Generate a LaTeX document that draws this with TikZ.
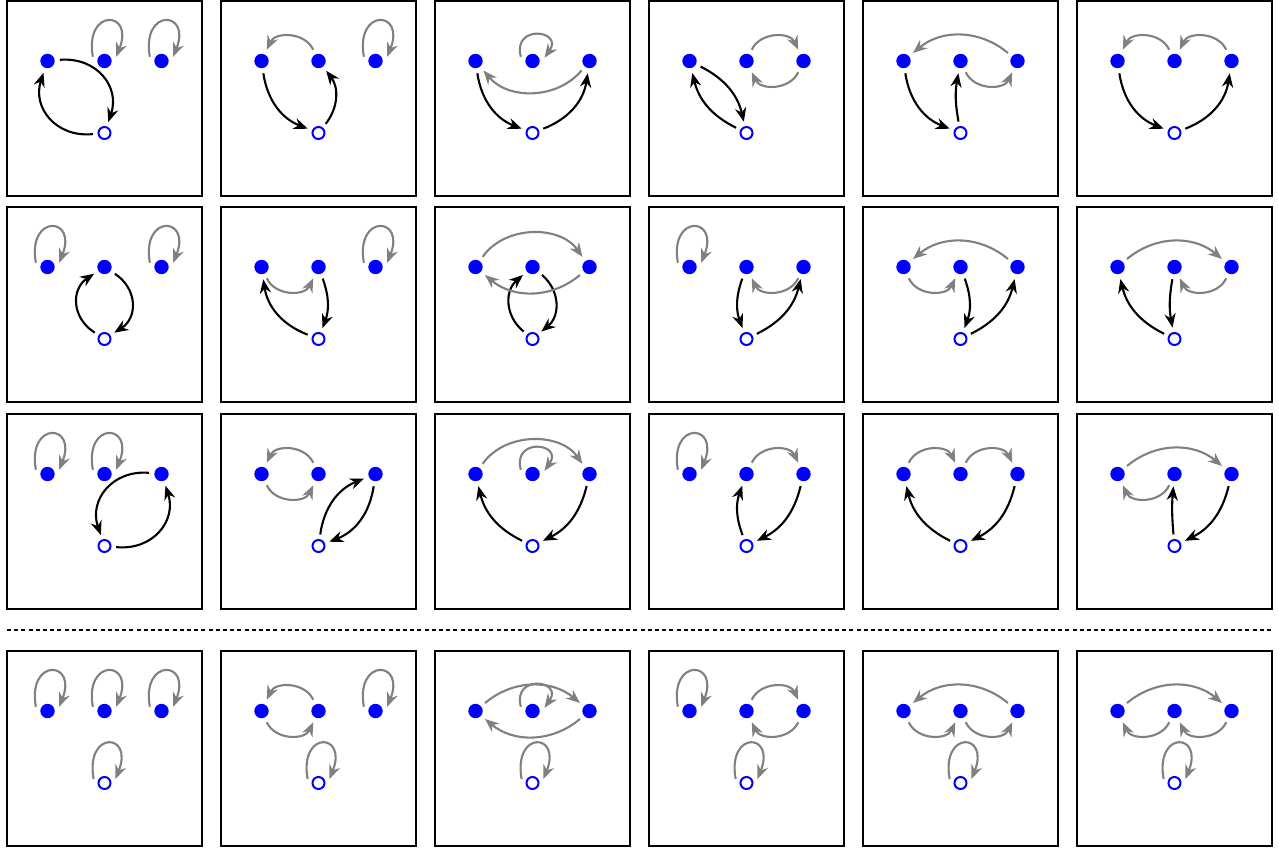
\documentclass[tikz,border=0pt]{standalone}
\usepackage{tikz}
\usetikzlibrary{arrows.meta}
\tikzset{
    frame/.style={draw=black, line width=1pt},
    vertex/.style={circle, fill=blue, inner sep=0pt, minimum size=7.2pt, outer sep=2.6pt},
    hole/.style={circle, draw=blue, fill=white, line width=1pt, inner sep=0pt, minimum size=6pt, outer sep=2.8pt},
    cyc/.style={-{Stealth[length=7pt,width=5.6pt]}, line width=1.05pt, black},
    rest/.style={-{Stealth[length=7pt,width=5.6pt]}, line width=1.05pt, gray},
    near/.style={looseness=1.1},
    far/.style={looseness=1},
    fixloop/.style={rest, out=100, in=68, min distance=25pt},
    smallloop/.style={rest, out=105, in=55, min distance=17pt}
}

\begin{document}
\begin{tikzpicture}[x=0.5pt, y=0.5pt]
  \useasboundingbox (0,0) rectangle (1279,-850);

  % Frames and dots
  \foreach \row/\top in {0/1, 1/207, 2/414, 3/651} {
    \foreach \col in {0,...,5} {
      \pgfmathtruncatemacro{\k}{6*\row+\col+1}
      \pgfmathsetmacro{\xl}{7+214*\col}
      \pgfmathsetmacro{\cx}{104.5+214*\col}
      \draw[frame] (\xl,-\top) rectangle ({\xl+195}, {-\top-195});
      \node[vertex] (a\k) at ({\cx-57}, {-\top-60}) {};
      \node[vertex] (b\k) at (\cx, {-\top-60}) {};
      \node[vertex] (c\k) at ({\cx+57}, {-\top-60}) {};
      \node[hole] (o\k) at (\cx, {-\top-132}) {};
    }
  }

  % Separator
  \coordinate (sepL) at (7,-630);
  \coordinate (sepR) at (1271,-630);
  \draw[line width=0.7pt, dash pattern=on 2pt off 1.6pt] (sepL) -- (sepR);

  % Row 1
  \draw[cyc] (a1) to[bend left=57, looseness=1.2] (o1);
  \draw[cyc] (o1) to[bend left=57, looseness=1.2] (a1);
  \draw[fixloop] (b1.160) to (b1.20);
  \draw[fixloop] (c1.160) to (c1.20);

  \draw[cyc] (a2) to[bend right=30] (o2);
  \draw[cyc] (o2) to[bend right=38] (b2);
  \draw[rest] (b2) to[bend right=65, near] (a2);
  \draw[fixloop] (c2.160) to (c2.20);

  \draw[cyc] (a3) to[bend right=30] (o3);
  \draw[cyc] (o3) to[bend right=30] (c3);
  \draw[rest] (c3) to[bend left=50, far] (a3);
  \draw[smallloop] (b3.160) to (b3.15);

  \draw[cyc] (a4) to[bend left=25] (o4);
  \draw[cyc] (o4) to[bend left=25] (a4);
  \draw[rest] (b4) to[bend left=65, near] (c4);
  \draw[rest] (c4) to[bend left=65, near] (b4);

  \draw[cyc] (a5) to[bend right=30] (o5);
  \draw[cyc] (o5) to[bend left=10] (b5);
  \draw[rest] (b5) to[bend right=65, near] (c5);
  \draw[rest] (c5) to[bend right=40, far] (a5);

  \draw[cyc] (a6) to[bend right=30] (o6);
  \draw[cyc] (o6) to[bend right=30] (c6);
  \draw[rest] (c6) to[bend right=65, near] (b6);
  \draw[rest] (b6) to[bend right=65, near] (a6);

  % Row 2
  \draw[cyc] (b7) to[bend left=57, looseness=1.2] (o7);
  \draw[cyc] (o7) to[bend left=57, looseness=1.2] (b7);
  \draw[fixloop] (a7.160) to (a7.20);
  \draw[fixloop] (c7.160) to (c7.20);

  \draw[cyc] (b8) to[bend left=20] (o8);
  \draw[cyc] (o8) to[bend left=30] (a8);
  \draw[rest] (a8) to[bend right=65, near] (b8);
  \draw[fixloop] (c8.160) to (c8.20);

  \draw[cyc] (b9) to[bend left=50, looseness=1.1] (o9);
  \draw[cyc] (o9) to[bend left=50, looseness=1.1] (b9);
  \draw[rest] (a9) to[bend left=55, far] (c9);
  \draw[rest] (c9) to[bend left=40, far] (a9);

  \draw[cyc] (b10) to[bend right=20] (o10);
  \draw[cyc] (o10) to[bend right=25] (c10);
  \draw[rest] (c10) to[bend left=65, near] (b10);
  \draw[fixloop] (a10.160) to (a10.20);

  \draw[cyc] (b11) to[bend left=20] (o11);
  \draw[cyc] (o11) to[bend right=25] (c11);
  \draw[rest] (c11) to[bend right=40, far] (a11);
  \draw[rest] (a11) to[bend right=65, near] (b11);

  \draw[cyc] (b12) to[bend right=10] (o12);
  \draw[cyc] (o12) to[bend left=25] (a12);
  \draw[rest] (a12) to[bend left=40, far] (c12);
  \draw[rest] (c12) to[bend left=65, near] (b12);

  % Row 3
  \draw[cyc] (c13) to[bend right=57, looseness=1.2] (o13);
  \draw[cyc] (o13) to[bend right=57, looseness=1.2] (c13);
  \draw[fixloop] (a13.160) to (a13.20);
  \draw[fixloop] (b13.160) to (b13.20);

  \draw[cyc] (c14) to[bend left=30] (o14);
  \draw[cyc] (o14) to[bend left=30] (c14);
  \draw[rest] (b14) to[bend right=65, near] (a14);
  \draw[rest] (a14) to[bend right=65, near] (b14);

  \draw[cyc] (c15) to[bend left=25] (o15);
  \draw[cyc] (o15) to[bend left=25] (a15);
  \draw[rest] (a15) to[bend left=55, far] (c15);
  \draw[smallloop] (b15.160) to (b15.15);

  \draw[cyc] (c16) to[bend left=25] (o16);
  \draw[cyc] (o16) to[bend left=20] (b16);
  \draw[rest] (b16) to[bend left=65, near] (c16);
  \draw[fixloop] (a16.160) to (a16.20);

  \draw[cyc] (c17) to[bend left=25] (o17);
  \draw[cyc] (o17) to[bend left=25] (a17);
  \draw[rest] (a17) to[bend left=65, near] (b17);
  \draw[rest] (b17) to[bend left=65, near] (c17);

  \draw[cyc] (c18) to[bend left=25] (o18);
  \draw[cyc] (o18) to[bend left=5] (b18);
  \draw[rest] (b18) to[bend left=65, near] (a18);
  \draw[rest] (a18) to[bend left=40, far] (c18);

  % Row 4, hole fixed
  \draw[fixloop] (a19.160) to (a19.20);
  \draw[fixloop] (b19.160) to (b19.20);
  \draw[fixloop] (c19.160) to (c19.20);
  \draw[fixloop] (o19.160) to (o19.20);

  \draw[rest] (b20) to[bend right=65, near] (a20);
  \draw[rest] (a20) to[bend right=65, near] (b20);
  \draw[fixloop] (c20.160) to (c20.20);
  \draw[fixloop] (o20.160) to (o20.20);

  \draw[rest] (a21) to[bend left=40, far] (c21);
  \draw[rest] (c21) to[bend left=40, far] (a21);
  \draw[smallloop] (b21.160) to (b21.15);
  \draw[fixloop] (o21.160) to (o21.20);

  \draw[fixloop] (a22.160) to (a22.20);
  \draw[rest] (b22) to[bend left=65, near] (c22);
  \draw[rest] (c22) to[bend left=65, near] (b22);
  \draw[fixloop] (o22.160) to (o22.20);

  \draw[rest] (c23) to[bend right=40, far] (a23);
  \draw[rest] (a23) to[bend right=65, near] (b23);
  \draw[rest] (b23) to[bend right=65, near] (c23);
  \draw[fixloop] (o23.160) to (o23.20);

  \draw[rest] (a24) to[bend left=40, far] (c24);
  \draw[rest] (c24) to[bend left=65, near] (b24);
  \draw[rest] (b24) to[bend left=65, near] (a24);
  \draw[fixloop] (o24.160) to (o24.20);
\end{tikzpicture}
\end{document}
